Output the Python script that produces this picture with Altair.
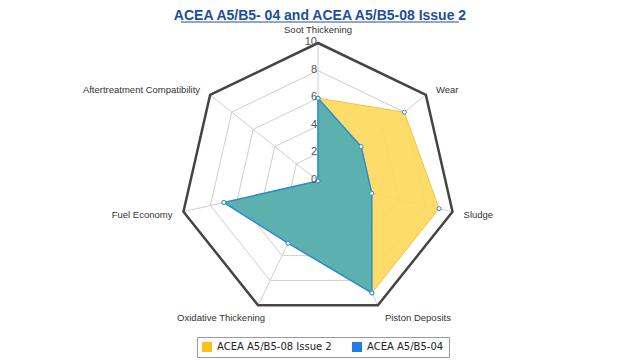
import altair as alt
import pandas as pd

# ---------------- data ----------------
categories = ["Soot Thickening", "Wear", "Sludge", "Piston Deposits",
              "Oxidative Thickening", "Fuel Economy", "Aftertreatment Compatibility"]
series_names = ["ACEA A5/B5-08 Issue 2", "ACEA A5/B5-04"]
values_08 = [6, 8, 9, 9, 5, 7, 0]
values_04 = [6, 4, 4, 9, 5, 7, 0]
tick_values = [0, 2, 4, 6, 8, 10]
grid_levels = [2, 4, 6, 8]
max_level = 10
title_text = "ACEA A5/B5- 04 and ACEA A5/B5-08 Issue 2"

# ---------------- layout ----------------
W, H = 624, 352
CX, CY = 310, 173          # centre of the radar in plot pixels
PX = 13.8                  # pixels per value unit
xs = alt.Scale(domain=[-CX / PX, (W - CX) / PX], nice=False, zero=False)
ys = alt.Scale(domain=[-(H - CY) / PX, CY / PX], nice=False, zero=False)
N = len(categories)

series_df = pd.DataFrame(
    [{"series": s, "idx": i, "cat": c, "v": v}
     for s, vals in zip(series_names, [values_08, values_04])
     for i, (c, v) in enumerate(zip(categories, vals))]
)
grid_df = pd.DataFrame([{"level": l, "idx": i} for l in grid_levels for i in range(N)])
outer_df = pd.DataFrame([{"level": max_level, "idx": i} for i in range(N)])
spoke_df = pd.DataFrame([{"idx": i, "cat": c} for i, c in enumerate(categories)])
tick_df = pd.DataFrame({"t": tick_values})

ang = f"datum.idx * 2 * PI / {N}"

X = alt.X("x:Q", scale=xs, axis=None)
Y = alt.Y("y:Q", scale=ys, axis=None)

grid = alt.Chart(grid_df).transform_calculate(
    x=f"datum.level * sin({ang})", y=f"datum.level * cos({ang})"
).mark_line(interpolate="linear-closed", color="#cfcfcf", strokeWidth=1).encode(
    x=X, y=Y, detail="level:N", order="idx:Q")

spokes = alt.Chart(spoke_df).transform_calculate(
    x="0", y="0",
    x2=f"{max_level} * sin({ang})", y2=f"{max_level} * cos({ang})"
).mark_rule(color="#cfcfcf", strokeWidth=1).encode(
    x=X, y=Y, x2="x2:Q", y2="y2:Q")

yellow = alt.Chart(series_df).transform_filter(
    alt.datum.series == series_names[0]
).transform_calculate(
    x=f"datum.v * sin({ang})", y=f"datum.v * cos({ang})"
).mark_line(interpolate="linear-closed", fill="#FED859", fillOpacity=0.9,
            stroke="#F2C63A", strokeWidth=1).encode(x=X, y=Y, order="idx:Q")

blue = alt.Chart(series_df).transform_filter(
    alt.datum.series == series_names[1]
).transform_calculate(
    x=f"datum.v * sin({ang})", y=f"datum.v * cos({ang})"
).mark_line(interpolate="linear-closed", fill="#25A1C4", fillOpacity=0.75,
            stroke="#2B8CD8", strokeWidth=1.5).encode(x=X, y=Y, order="idx:Q")

outer = alt.Chart(outer_df).transform_calculate(
    x=f"datum.level * sin({ang})", y=f"datum.level * cos({ang})"
).mark_line(interpolate="linear-closed", color="#444444", strokeWidth=2.5).encode(
    x=X, y=Y, order="idx:Q")

markers = alt.Chart(series_df).transform_calculate(
    x=f"datum.v * sin({ang})", y=f"datum.v * cos({ang})"
).mark_point(shape="circle", filled=True, fill="white", stroke="#2B8CD8",
             strokeWidth=1, size=16, opacity=1).encode(x=X, y=Y)

legend_layer = alt.Chart(series_df).transform_calculate(x="0", y="0").mark_square(
    size=100, opacity=0).encode(
    x=X, y=Y,
    color=alt.Color("series:N",
                    scale=alt.Scale(domain=series_names, range=["#F9C21A", "#1E7FE0"]),
                    legend=alt.Legend(title=None, orient="none", legendX=189, legendY=329,
                                      direction="horizontal", symbolType="square",
                                      symbolSize=100, symbolOpacity=1, symbolStrokeWidth=0,
                                      labelFont="DejaVu Sans", labelFontSize=10,
                                      labelColor="#222", columnPadding=20,
                                      strokeColor="#9a9a9a", fillColor="white",
                                      padding=5, labelOffset=5)))

ticks = alt.Chart(tick_df).transform_calculate(x="0", y="datum.t").mark_text(
    align="right", baseline="middle", dx=-1, dy=-1, font="Liberation Sans",
    fontSize=11, color="#555555").encode(x=X, y=Y, text="t:Q")


def label_layer(idxs, **kw):
    return alt.Chart(spoke_df).transform_filter(
        alt.FieldOneOfPredicate(field="idx", oneOf=idxs)
    ).transform_calculate(
        x=f"{max_level} * sin({ang})", y=f"{max_level} * cos({ang})"
    ).mark_text(font="Liberation Sans", fontSize=9.5, color="#333333",
                baseline="middle", **kw).encode(x=X, y=Y, text="cat:N")


lab_top = label_layer([0], align="center", dy=-13)
lab_ru = label_layer([1], align="left", dx=10, dy=-5)
lab_rm = label_layer([2], align="left", dx=11, dy=3)
lab_rb = label_layer([3], align="left", dx=7, dy=13)
lab_lb = label_layer([4], align="right", dx=7, dy=13)
lab_lm = label_layer([5], align="right", dx=-11, dy=3)
lab_lu = label_layer([6], align="right", dx=-10, dy=-5)

title = alt.Chart(tick_df.head(1)).mark_text(
    align="center", baseline="alphabetic", font="Liberation Sans", fontSize=14,
    fontWeight="bold", color="#1D4E9E").encode(
    x=alt.value(312), y=alt.value(12), text=alt.value(title_text))

underline = alt.Chart(tick_df.head(1)).mark_rule(color="#1D4E9E", strokeWidth=1).encode(
    x=alt.value(173), x2=alt.value(451), y=alt.value(14))

chart = alt.layer(
    grid, spokes, yellow, blue, outer, markers, ticks,
    lab_top, lab_ru, lab_rm, lab_rb, lab_lb, lab_lm, lab_lu,
    title, underline, legend_layer
).properties(
    width=W, height=H, autosize=alt.AutoSizeParams(type="none"), padding=0
).configure_view(stroke=None)

chart.save("out.html", embed_options={"renderer": "svg", "actions": False})
